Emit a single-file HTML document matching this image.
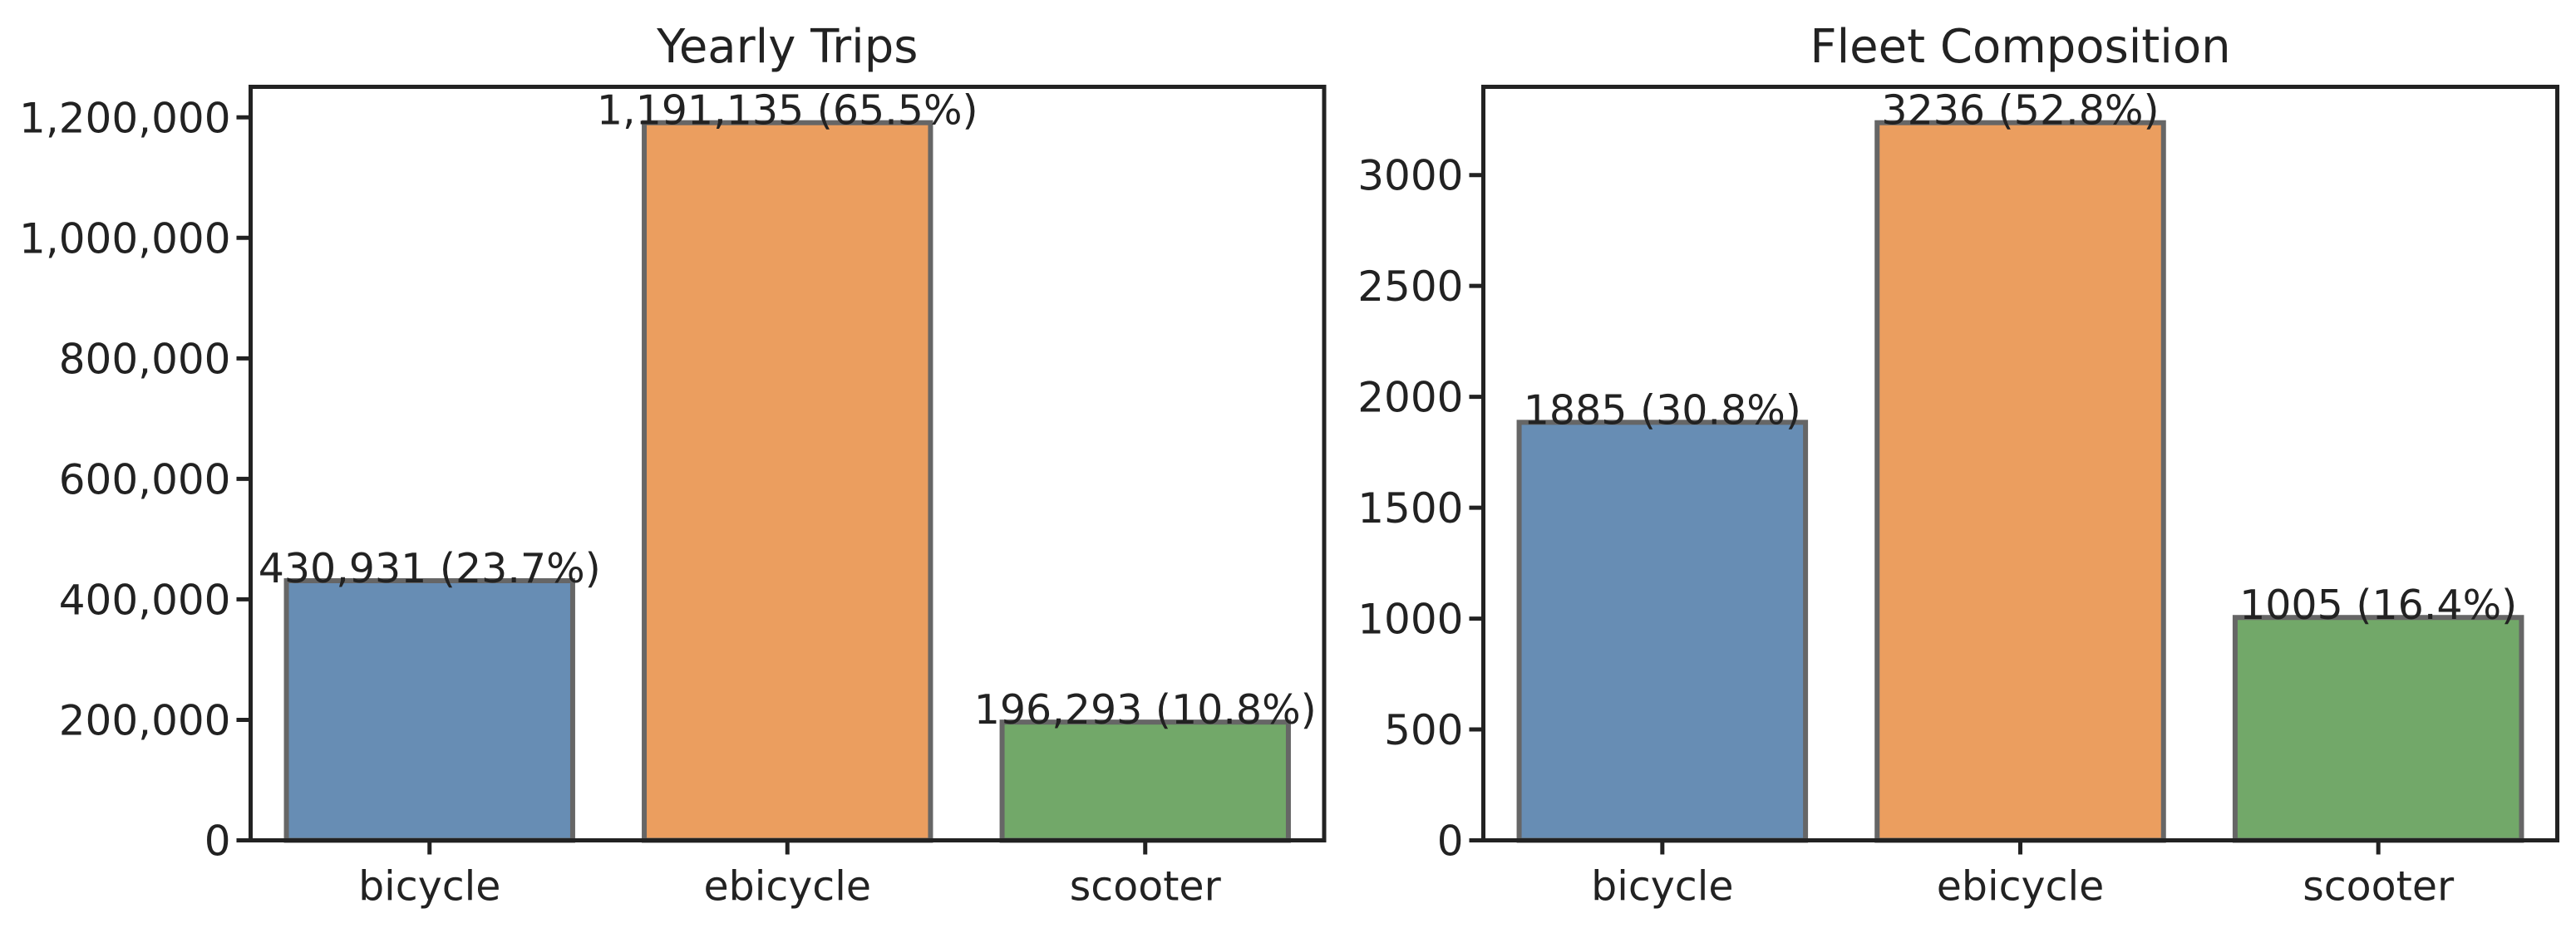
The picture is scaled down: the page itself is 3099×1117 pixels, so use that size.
<!DOCTYPE html>
<html><head><meta charset="utf-8"><style>
html,body{margin:0;padding:0;background:#fff;}
svg{display:block;font-family:"DejaVu Sans","Liberation Sans",sans-serif;}
</style></head><body>
<svg id="chart" width="3099" height="1117" viewBox="0 0 3099 1117"></svg>
<script>
const categories = ["bicycle","ebicycle","scooter"];
const tripValues = [430931,1191135,196293];
const tripLabels = ["430,931 (23.7%)","1,191,135 (65.5%)","196,293 (10.8%)"];
const tripTicks = [0,200000,400000,600000,800000,1000000,1200000];
const tripTickLabels = ["0","200,000","400,000","600,000","800,000","1,000,000","1,200,000"];
const fleetValues = [1885,3236,1005];
const fleetLabels = ["1885 (30.8%)","3236 (52.8%)","1005 (16.4%)"];
const fleetTicks = [0,500,1000,1500,2000,2500,3000];
const fleetTickLabels = ["0","500","1000","1500","2000","2500","3000"];
const colors = ["#678db4","#eb9e5f","#72a869"];

const NS = "http://www.w3.org/2000/svg";
const svg = document.getElementById("chart");
function mk(tag, attrs, parent){
  const e = document.createElementNS(NS, tag);
  for (const k in attrs) e.setAttribute(k, attrs[k]);
  (parent||svg).appendChild(e);
  return e;
}
function panel(name, title, x0, x1, top, bottom, values, labels, ticks, tickLabels){
  const g = mk("g", {});
  
  
  const ymax = Math.max(...values) * 1.05;
  const y = v => bottom - v / ymax * (bottom - top);
  const step = (x1 - x0) / categories.length;
  const xc = i => x0 + step * (i + 0.5);
  const bw = step * 0.8;
  // bars
  values.forEach((v, i) => {
    const r = mk("rect", {x: xc(i) - bw/2, y: y(v), width: bw, height: bottom - y(v), fill: colors[i], stroke: "#666", "stroke-width": 6}, g);
    
    
    const t = mk("text", {x: xc(i), y: y(v) + 2, "text-anchor": "middle", "font-size": 49, fill: "#222"}, g);
    t.textContent = labels[i];
    
    
  });
  // y ticks
  ticks.forEach((v, i) => {
    const l = mk("line", {x1: x0 - 17, x2: x0, y1: y(v), y2: y(v), stroke: "#222", "stroke-width": 5}, g);
    
    
    const t = mk("text", {x: x0 - 24, y: y(v) + 18, "text-anchor": "end", "font-size": 50, fill: "#222"}, g);
    t.textContent = tickLabels[i];
    
    
  });
  // x ticks
  categories.forEach((c, i) => {
    const l = mk("line", {x1: xc(i), x2: xc(i), y1: bottom, y2: bottom + 17, stroke: "#222", "stroke-width": 5}, g);
    
    
    const t = mk("text", {x: xc(i), y: bottom + 72, "text-anchor": "middle", "font-size": 49, fill: "#222"}, g);
    t.textContent = c;
    
    
  });
  const f = mk("rect", {x: x0, y: top, width: x1 - x0, height: bottom - top, fill: "none", stroke: "#222", "stroke-width": 5}, g);
  
  
  const tt = mk("text", {x: (x0 + x1) / 2, y: 75, "text-anchor": "middle", "font-size": 56, fill: "#222"}, g);
  tt.textContent = title;
  
  
}
panel("yearly-trips-panel", "Yearly Trips", 301.5, 1593, 104.5, 1011.5, tripValues, tripLabels, tripTicks, tripTickLabels);
panel("fleet-composition-panel", "Fleet Composition", 1784.5, 3076.5, 104.5, 1011.5, fleetValues, fleetLabels, fleetTicks, fleetTickLabels);
</script>
</body></html>
